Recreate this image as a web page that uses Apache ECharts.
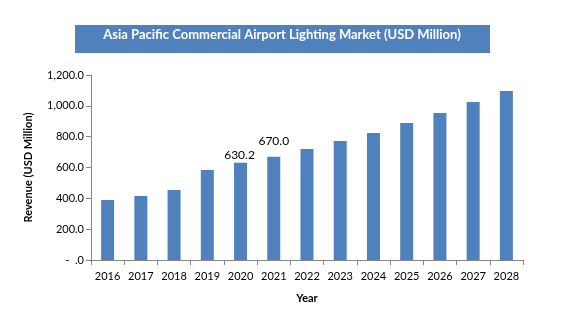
<!DOCTYPE html>
<html><head><meta charset="utf-8">
<script src="https://cdn.jsdelivr.net/npm/echarts@6/dist/echarts.min.js"></script>
<style>html,body{margin:0;padding:0;background:#fff}#c{width:576px;height:322px}</style>
</head><body><div id="c"></div>
<script>
const years = ['2016','2017','2018','2019','2020','2021','2022','2023','2024','2025','2026','2027','2028'];
const revenue = [389, 415, 454, 584, 630.2, 670.0, 720, 772, 824, 889, 954, 1025, 1096];
const labeledYears = ['2020','2021'];
const titleText = 'Asia Pacific Commercial Airport Lighting Market (USD Million)';
const FONT = 'Lato, "Open Sans", sans-serif';

const chart = echarts.init(document.getElementById('c'), null, {renderer:'canvas'});
chart.setOption({
  animation:false,
  backgroundColor:'#fff',
  graphic:[
    {type:'rect', shape:{x:75,y:25,width:415,height:28}, style:{fill:'#4F81BD'}},
    {type:'text', x:282, y:35, style:{text:titleText, fill:'#fff', font:'bold 13px '+FONT, align:'center', verticalAlign:'middle'}}
  ],
  grid:{left:91, right:53, top:75, bottom:62},
  xAxis:{
    type:'category', data:years, boundaryGap:true,
    name:'Year', nameLocation:'middle', nameGap:33,
    nameTextStyle:{fontFamily:FONT, fontWeight:'bold', fontSize:11, color:'#000'},
    axisLine:{lineStyle:{color:'#868686'}},
    axisTick:{show:true, alignWithLabel:false, length:5, lineStyle:{color:'#868686'}},
    axisLabel:{fontFamily:FONT, fontSize:11, color:'#000', margin:11, interval:0}
  },
  yAxis:{
    type:'value', min:0, max:1200, interval:200,
    name:'Revenue (USD Million)', nameLocation:'middle', nameGap:57, nameRotate:90,
    nameTextStyle:{fontFamily:FONT, fontWeight:'bold', fontSize:11, color:'#000'},
    axisLine:{show:true, lineStyle:{color:'#868686'}},
    axisTick:{show:true, length:5, lineStyle:{color:'#868686'}},
    splitLine:{show:false},
    axisLabel:{fontFamily:FONT, fontSize:11, color:'#000', margin:7,
      formatter:function(v){ return v===0 ? '-  .0' : v.toLocaleString('en-US',{minimumFractionDigits:1, maximumFractionDigits:1}); }}
  },
  series:[{
    type:'bar', barWidth:13,
    data:revenue.map((v,i)=>({value:v, label:{show: labeledYears.includes(years[i]), distance: years[i]==='2021' ? 10 : 2, offset: years[i]==='2020' ? [-1,0] : [0,0]}})),
    itemStyle:{color:'#4F81BD'},
    label:{position:'top', fontFamily:FONT, fontSize:12, color:'#000',
      formatter:p=>p.value.toFixed(1)}
  }]
});
</script></body></html>
